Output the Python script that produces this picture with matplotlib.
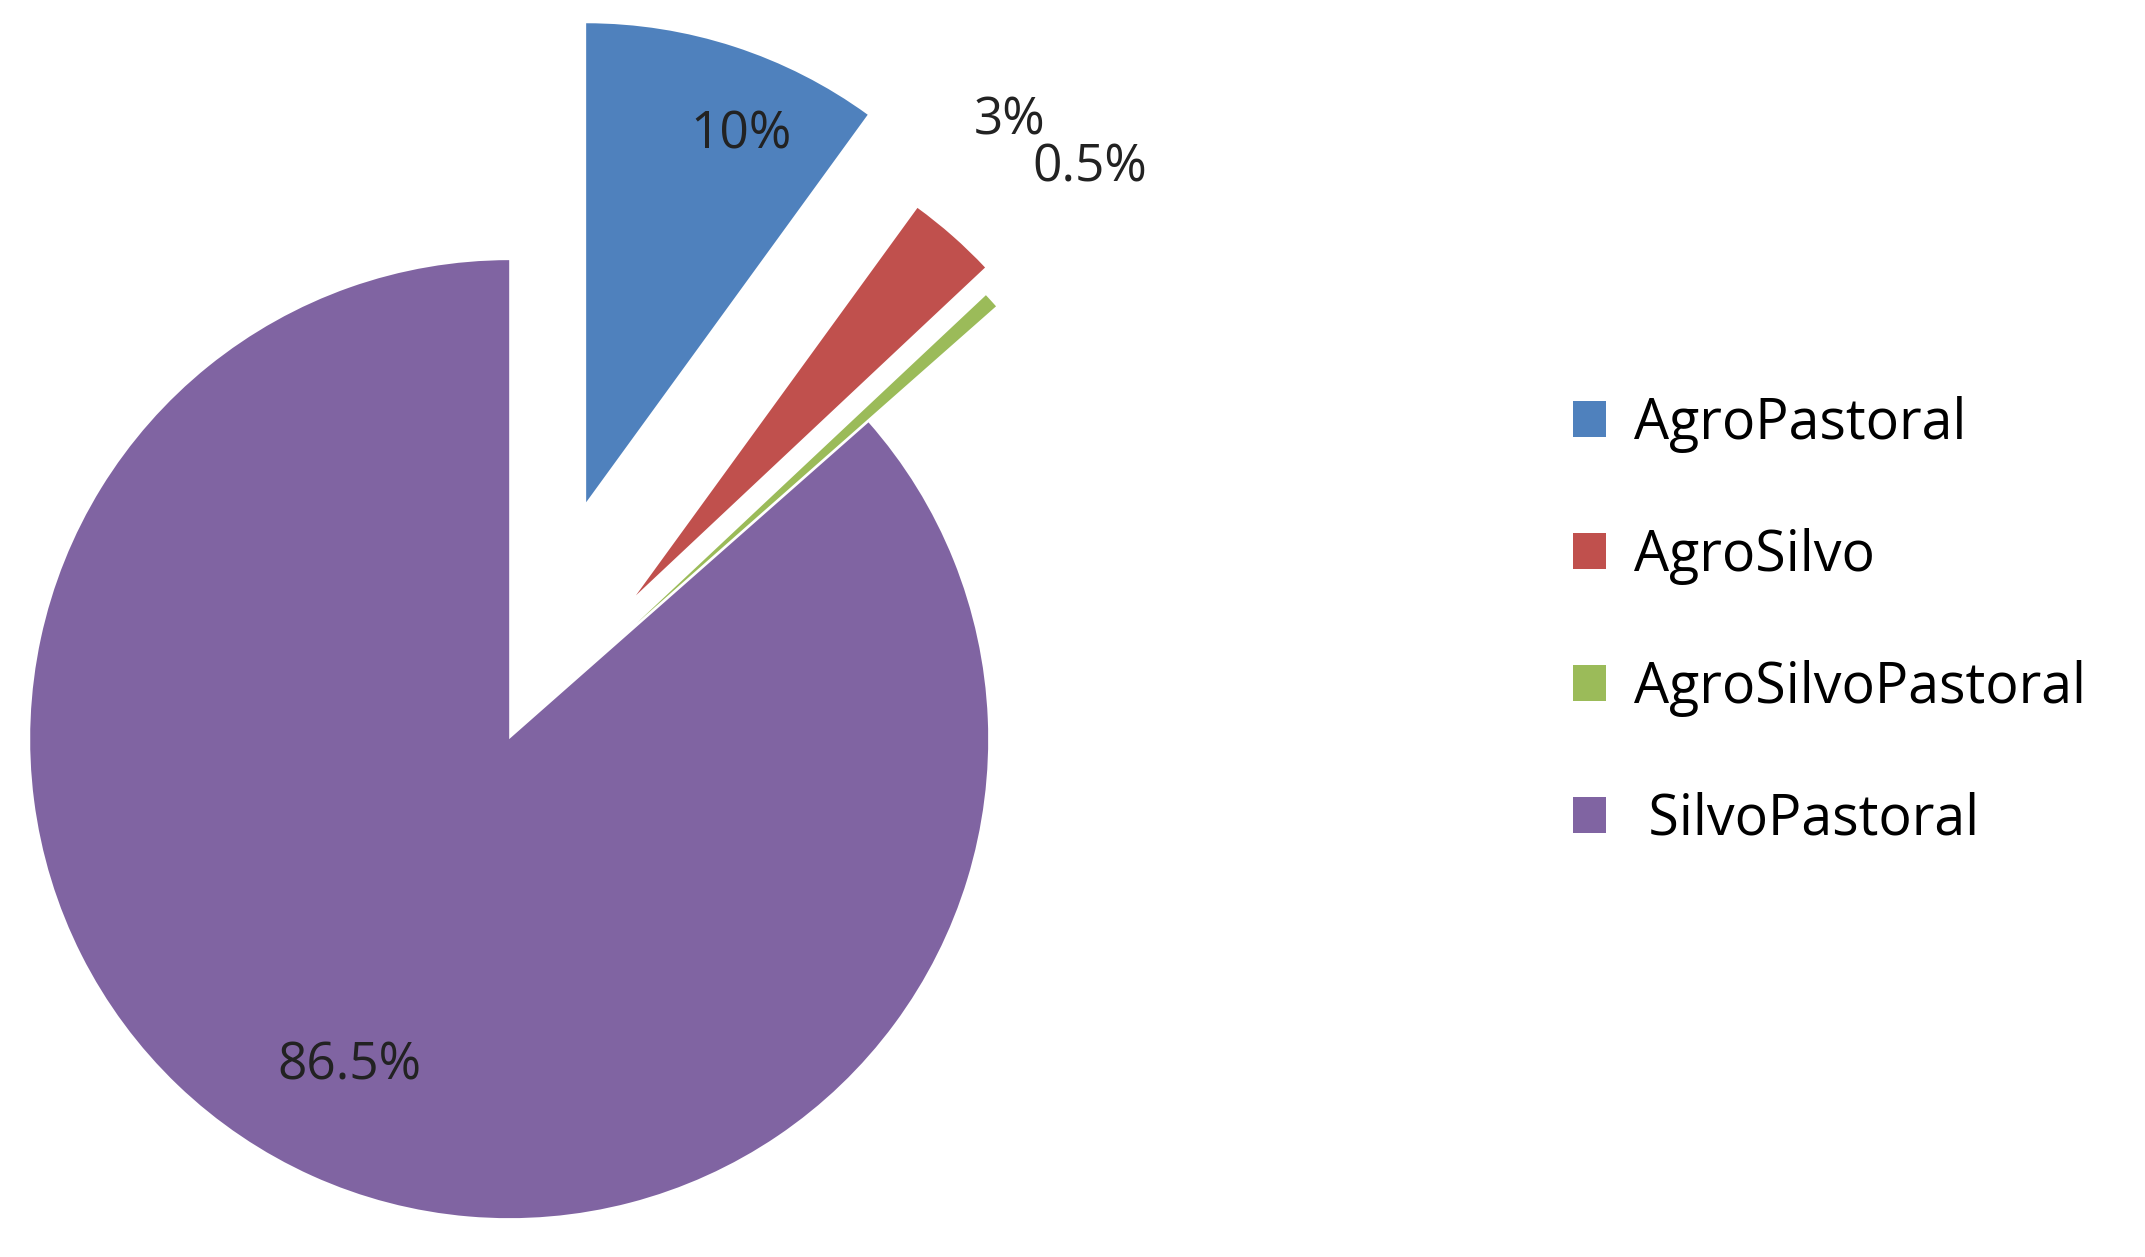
import matplotlib.pyplot as plt
import numpy as np

labels = ["AgroPastoral", "AgroSilvo", "AgroSilvoPastoral", " SilvoPastoral"]
values = [10, 3, 0.5, 86.5]
pct_text = ["10%", "3%", "0.5%", "86.5%"]
colors = ["#4F81BD", "#C0504D", "#9BBB59", "#8064A2"]
explode = [0.52, 0.40, 0.36, 0]
# label placement: (angle deg, distance in radii from pie centre)
label_pos = [(69, 1.35), (51, 1.66), (44.5, 1.70), (-116, 0.76)]

plt.rcParams["font.family"] = ["Open Sans", "DejaVu Sans"]
fig = plt.figure(figsize=(21.45, 12.57), dpi=100)
ax = fig.add_axes([0, 0, 1, 1])
wedges, _ = ax.pie(values, colors=colors, explode=explode, startangle=90,
                   counterclock=False, radius=1,
                   wedgeprops=dict(linewidth=0))
for (a, d), t in zip(label_pos, pct_text):
    r = np.radians(a)
    ax.text(d*np.cos(r), d*np.sin(r), t, ha="center", va="center",
            fontsize=37, color="#222222")
ax.set_xlim(-1.063, 3.415)
ax.set_ylim(-1.081, 1.543)
ax.set_aspect("equal")
ax.axis("off")
ax.legend(wedges, labels, loc="center left", bbox_to_anchor=(0.71, 0.505),
          frameon=False, fontsize=40, handlelength=0.6, handleheight=0.6,
          handletextpad=0.5, labelspacing=1.35)
fig.savefig("out.png", dpi=100)
